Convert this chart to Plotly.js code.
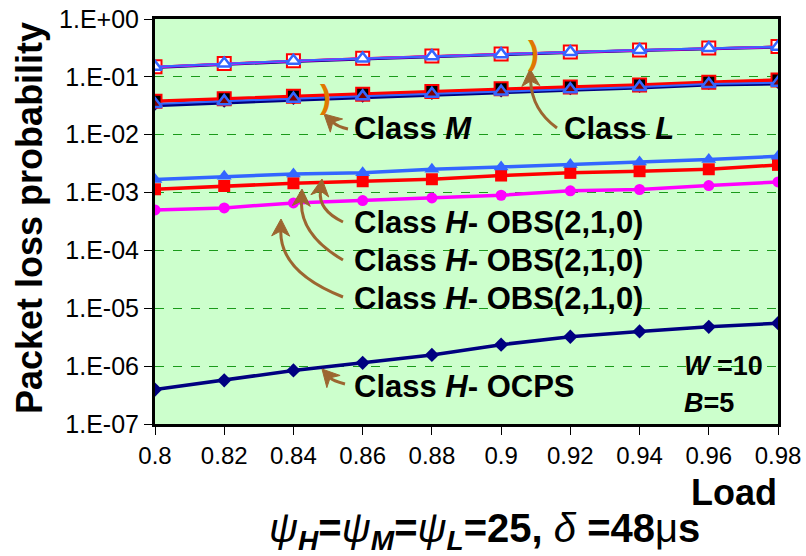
<!DOCTYPE html>
<html>
<head>
<meta charset="utf-8">
<script src="https://cdn.plot.ly/plotly-3.0.1.min.js"></script>
<style>
  html, body { margin: 0; padding: 0; background: #ffffff; }
  #chart { width: 806px; height: 556px; }
</style>
</head>
<body>
<div id="chart"></div>
<script>
// ---------------- data ----------------
const loads = [0.80, 0.82, 0.84, 0.86, 0.88, 0.90, 0.92, 0.94, 0.96, 0.98];
const xTickLabels = ['0.8', '0.82', '0.84', '0.86', '0.88', '0.9', '0.92', '0.94', '0.96', '0.98'];
const yTickVals = [1e-7, 1e-6, 1e-5, 1e-4, 1e-3, 1e-2, 1e-1, 1];
const yTickLabels = ['1.E-07', '1.E-06', '1.E-05', '1.E-04', '1.E-03', '1.E-02', '1.E-01', '1.E+00'];

// Class L
const classL_OCPS = [0.145, 0.166, 0.185, 0.204, 0.224, 0.243, 0.264, 0.286, 0.310, 0.327];
const classL_OBS_red = [0.150, 0.171, 0.190, 0.209, 0.230, 0.249, 0.270, 0.292, 0.316, 0.334];
const classL_OBS_magenta = [0.148, 0.169, 0.188, 0.207, 0.227, 0.246, 0.267, 0.289, 0.313, 0.330];
const classL_OBS_blue = [0.149, 0.170, 0.189, 0.208, 0.228, 0.247, 0.268, 0.290, 0.314, 0.331];

// Class M
const classM_OCPS = [0.032, 0.036, 0.040, 0.044, 0.049, 0.054, 0.059, 0.065, 0.073, 0.076];
const classM_OBS_red = [0.038, 0.042, 0.046, 0.050, 0.056, 0.062, 0.067, 0.072, 0.081, 0.088];
const classM_OBS_blue = [0.034, 0.038, 0.042, 0.046, 0.051, 0.056, 0.061, 0.067, 0.075, 0.079];

// Class H
const classH_OBS_blue = [1.68e-3, 1.91e-3, 2.10e-3, 2.19e-3, 2.53e-3, 2.78e-3, 3.05e-3, 3.39e-3, 3.72e-3, 4.25e-3];
const classH_OBS_red = [1.14e-3, 1.30e-3, 1.45e-3, 1.57e-3, 1.70e-3, 1.97e-3, 2.19e-3, 2.34e-3, 2.53e-3, 3.01e-3];
const classH_OBS_magenta = [5.02e-4, 5.43e-4, 6.63e-4, 7.27e-4, 8.09e-4, 8.99e-4, 1.07e-3, 1.13e-3, 1.32e-3, 1.53e-3];
const classH_OCPS = [3.93e-7, 5.68e-7, 8.43e-7, 1.14e-6, 1.56e-6, 2.35e-6, 3.22e-6, 3.98e-6, 4.79e-6, 5.53e-6];

// ---------------- styles ----------------
const NAVY = '#000080', BLUE = '#3366FF', RED = '#FF0000', MAGENTA = '#FF00FF';
const BROWN = '#9C6630', ORANGE = '#E07800';
const FONT = 'Liberation Sans, Arial, sans-serif';

function tr(y, color, width, marker) {
  const t = { x: loads, y: y, type: 'scatter', mode: marker ? 'lines+markers' : 'lines',
              line: { color: color, width: width }, showlegend: false, hoverinfo: 'skip' };
  if (marker) t.marker = marker;
  return t;
}

const data = [
  // Class L
  tr(classL_OCPS, NAVY, 3, { symbol: 'diamond', size: 7, color: NAVY }),
  tr(classL_OBS_red, RED, 2, { symbol: 'square', size: 13, color: '#FFFFFF', line: { color: RED, width: 2 } }),
  tr(classL_OBS_magenta, MAGENTA, 2.5),
  tr(classL_OBS_blue, BLUE, 2, { symbol: 'triangle-up', size: 12, color: '#FFFFFF', line: { color: BLUE, width: 2.5 } }),
  // Class M
  tr(classM_OCPS, NAVY, 3.5, { symbol: 'diamond', size: 8, color: NAVY }),
  tr(classM_OBS_red, RED, 3.5, { symbol: 'square', size: 13, color: '#000000', line: { color: RED, width: 2 } }),
  tr(classM_OBS_blue, BLUE, 2, { symbol: 'triangle-up', size: 12, color: '#800000', line: { color: BLUE, width: 2.5 } }),
  // Class H
  tr(classH_OBS_magenta, MAGENTA, 3.5, { symbol: 'circle', size: 11, color: MAGENTA }),
  tr(classH_OBS_red, RED, 3.5, { symbol: 'square', size: 12, color: RED }),
  tr(classH_OBS_blue, BLUE, 3.5, { symbol: 'triangle-up', size: 13, color: BLUE }),
  tr(classH_OCPS, NAVY, 3.5, { symbol: 'diamond', size: 11, color: NAVY })
];

// ---------------- decorations (pixel -> paper helpers) ----------------
const M = { l: 155, r: 28, t: 19, b: 132 };
const W = 806, H = 556;
const PW = W - M.l - M.r, PH = H - M.t - M.b;
const px = v => (v - M.l) / PW;
const py = v => (H - M.b - v) / PH;
const pt = p => `${px(p[0])},${py(p[1])}`;

// curved arrow: quadratic curve from tail to tip with a notched, filled head
function curvedArrow(tail, ctrl, tip) {
  const dx = tip[0] - ctrl[0], dy = tip[1] - ctrl[1];
  const len = Math.hypot(dx, dy);
  const u = [dx / len, dy / len], n = [-u[1], u[0]];
  const HL = 17, HW = 9, NOTCH = 5;
  const base = [tip[0] - u[0] * HL, tip[1] - u[1] * HL];
  const notch = [tip[0] - u[0] * (HL - NOTCH), tip[1] - u[1] * (HL - NOTCH)];
  const b1 = [base[0] + n[0] * HW, base[1] + n[1] * HW];
  const b2 = [base[0] - n[0] * HW, base[1] - n[1] * HW];
  return [
    { type: 'path', xref: 'paper', yref: 'paper', layer: 'above',
      path: `M ${pt(tail)} Q ${pt(ctrl)} ${pt(notch)}`,
      line: { color: BROWN, width: 3 } },
    { type: 'path', xref: 'paper', yref: 'paper', layer: 'above',
      path: `M ${pt(tip)} L ${pt(b1)} L ${pt(notch)} L ${pt(b2)} Z`,
      fillcolor: BROWN, line: { color: BROWN, width: 1 } }
  ];
}
function label(text, left, cy, size) {
  return { xref: 'paper', yref: 'paper', x: px(left), y: py(cy), xanchor: 'left', yanchor: 'middle',
           text: text, showarrow: false, font: { family: FONT, size: size || 31, color: '#000000' } };
}
function bracket(cx, cy) {
  return { xref: 'paper', yref: 'paper', x: px(cx), y: py(cy), xanchor: 'center', yanchor: 'middle',
           text: '<b>)</b>', showarrow: false, font: { family: FONT, size: 33, color: ORANGE } };
}

const arrows = [
  { tail: [343, 222], ctrl: [318, 210], tip: [322, 179] },
  { tail: [343, 260], ctrl: [300, 235], tip: [302, 189] },
  { tail: [343, 297], ctrl: [280, 272], tip: [281, 219] },
  { tail: [557, 128], ctrl: [532, 110], tip: [530, 69] },
  { tail: [348, 129], ctrl: [338, 127], tip: [324, 114] },
  { tail: [345, 384], ctrl: [333, 381], tip: [322, 369] }
];

const shapes = [].concat(...arrows.map(a => curvedArrow(a.tail, a.ctrl, a.tip)));
const annotations = [
  bracket(325, 97),
  bracket(533, 53),
  label('<b>Class <i>M</i></b>', 352, 128),
  label('<b>Class <i>L</i></b>', 562, 128),
  label('<b>Class <i>H</i>- OBS(2,1,0)</b>', 352, 222),
  label('<b>Class <i>H</i>- OBS(2,1,0)</b>', 352, 260),
  label('<b>Class <i>H</i>- OBS(2,1,0)</b>', 352, 298),
  label('<b>Class <i>H</i>- OCPS</b>', 352, 386),
  label('<b><i>W</i> =10</b>', 682, 366, 27),
  label('<b><i>B</i>=5</b>', 682, 403, 27),
  { xref: 'paper', yref: 'paper', x: px(29), y: py(218), xanchor: 'center', yanchor: 'middle', textangle: -90,
    text: '<b>Packet loss probability</b>', showarrow: false, font: { family: FONT, size: 36, color: '#000000' } },
  { xref: 'paper', yref: 'paper', x: px(779), y: py(493), xanchor: 'right', yanchor: 'middle',
    text: '<b>Load</b>', showarrow: false, font: { family: FONT, size: 36, color: '#000000' } },
  { xref: 'paper', yref: 'paper', x: px(484), y: py(531), xanchor: 'center', yanchor: 'middle',
    text: '<i>ψ</i><sub><b><i>H</i></b></sub><b>=</b><i>ψ</i><sub><b><i>M</i></b></sub><b>=</b><i>ψ</i><sub><b><i>L</i></b></sub><b>=25, </b><i>δ</i><b> =48</b>μ<b>s</b>',
    showarrow: false, font: { family: FONT, size: 40, color: '#000000' } }
];

const layout = {
  width: W, height: H,
  margin: M,
  paper_bgcolor: '#FFFFFF',
  plot_bgcolor: '#CCFFCC',
  font: { family: FONT, color: '#000000' },
  showlegend: false,
  xaxis: {
    range: [0.8, 0.98],
    tickvals: loads, ticktext: xTickLabels,
    ticks: 'outside', ticklen: 8, tickwidth: 1, tickcolor: '#000000',
    tickfont: { family: FONT, size: 24 },
    showgrid: false, zeroline: false,
    showline: true, linecolor: '#000000', linewidth: 3, mirror: true
  },
  yaxis: {
    type: 'log', range: [-7, 0],
    tickvals: yTickVals, ticktext: yTickLabels,
    ticks: 'outside', ticklen: 8, tickwidth: 1, tickcolor: '#000000',
    tickfont: { family: FONT, size: 25 },
    showgrid: true, gridcolor: '#1A9A1A', griddash: 'dash', gridwidth: 1,
    zeroline: false,
    showline: true, linecolor: '#000000', linewidth: 3, mirror: true
  },
  shapes: shapes,
  annotations: annotations
};

Plotly.newPlot('chart', data, layout, { displayModeBar: false, staticPlot: true });
</script>
</body>
</html>
